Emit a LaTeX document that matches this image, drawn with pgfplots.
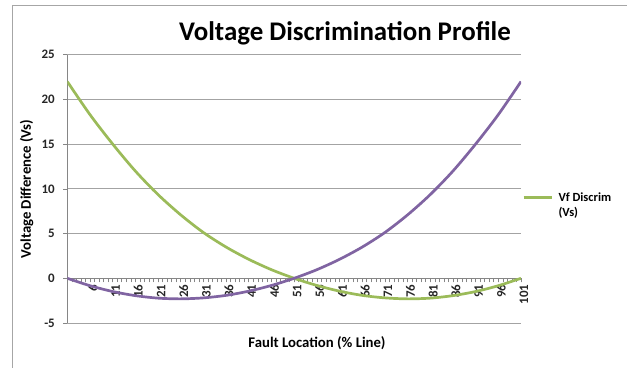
\documentclass[border=0pt]{standalone}
\usepackage{pgfplots}
\pgfplotsset{compat=1.18}
\usepackage{pgfplotstable}
\usepackage{fontspec}
\setmainfont{Carlito}
\definecolor{vgreen}{HTML}{9BBB59}
\definecolor{vpurple}{HTML}{8064A2}
\definecolor{gridgray}{HTML}{A3A3A3}
\definecolor{axgray}{HTML}{868686}
\definecolor{framegray}{HTML}{A6A6A6}
\pgfplotstableread{
idx green purple
1   22.00  0.00
6   18.30 -0.83
11  15.01 -1.48
16  11.99 -1.94
21   9.36 -2.22
26   7.09 -2.30
31   5.12 -2.19
36   3.49 -1.91
41   2.12 -1.44
46   0.96 -0.80
51   0.00  0.00
56  -0.80  0.96
61  -1.44  2.12
66  -1.91  3.49
71  -2.19  5.12
76  -2.30  7.09
81  -2.22  9.36
86  -1.94 11.99
91  -1.48 15.01
96  -0.83 18.30
101  0.00 22.00
}\datatable
\begin{document}
\begin{tikzpicture}
\useasboundingbox (-67.3bp,-45bp) rectangle (559.7bp,323bp);
\draw[framegray, line width=1bp] (-54.8bp,-45bp) -- (-54.8bp,317.5bp) -- (559.7bp,317.5bp);
\begin{axis}[
  scale only axis,
  width=453.7bp, height=268.3bp,
  xmin=1, xmax=101, ymin=-5, ymax=25,
  axis y line=left, axis x line=middle,
  axis line style={-, axgray, line width=1.2bp},
  xtick={1,6,...,101},
  minor xtick={1,...,101},
  ytick={-5,0,...,25},
  tick align=outside,
  major tick length=4bp, minor tick length=4bp,
  tick style={axgray, line width=0.6bp},
  ymajorgrids,
  major grid style={gridgray, line width=0.9bp},
  /pgf/number format/assume math mode=true,
  tick label style={font=\fontsize{13}{15}\selectfont\bfseries, text=black!85},
  xticklabel style={rotate=90, anchor=east, inner sep=2bp, yshift=-3bp},
  yticklabel style={xshift=-5bp},
  legend style={at={(axis description cs:1.0,0.44)}, anchor=west, draw=none, fill=none,
    font=\fontsize{12.5}{15}\selectfont\bfseries, cells={align=left}, inner sep=1bp},
  legend cell align=left,
  legend image code/.code={\path[draw=none] (0bp,-7.5bp) -- (33bp,-7.5bp);\draw[#1] (0bp,7.5bp) -- (28bp,7.5bp);},
]
\addplot[vgreen, line width=2.7bp, smooth] table[x=idx, y=green] {\datatable};
\addlegendentry{Vf Discrim\\(Vs)}
\addplot[vpurple, line width=2.7bp, smooth, forget plot] table[x=idx, y=purple] {\datatable};
\end{axis}
\node[font=\fontsize{27}{30}\selectfont\bfseries] at (277.7bp,290bp) {Voltage Discrimination Profile};
\node[font=\fontsize{14.8}{17}\selectfont\bfseries] at (249.7bp,-20bp) {Fault Location (\% Line)};
\node[font=\fontsize{14.8}{17}\selectfont\bfseries, rotate=90] at (-40.6bp,134bp) {Voltage Difference (Vs)};
\end{tikzpicture}
\end{document}
